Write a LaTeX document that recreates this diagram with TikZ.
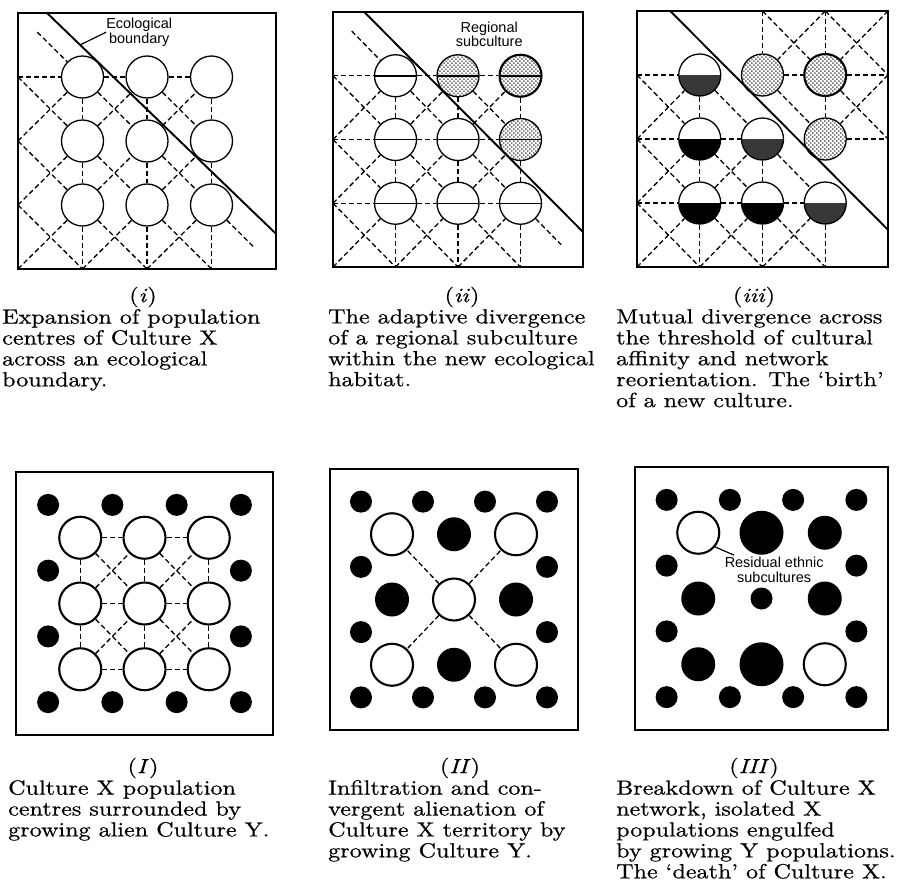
\documentclass[tikz,border=0pt]{standalone}
\usepackage{fontspec}
\setsansfont{Liberation Sans}
\newfontfamily\capfamily{lmroman10-regular.otf}[Ligatures=TeX, FakeStretch=1.18, FakeBold=0.6, ItalicFont=lmroman10-italic.otf]
\usetikzlibrary{patterns.meta}

\tikzdeclarepattern{name=stipple, type=uncolored,
  bottom left={(0bp,0bp)}, top right={(4.4bp,4.4bp)}, tile size={(4.4bp,4.4bp)},
  code={\fill (1.1bp,1.1bp) circle (0.85bp); \fill (3.3bp,3.3bp) circle (0.85bp);}}

\newcommand{\capfont}{\capfamily\fontsize{20.5}{21}\selectfont}
\newcommand{\notefont}{\sffamily\fontsize{14.5}{15}\selectfont}
\newcommand{\ringlist}{0.5/0.5,1.5/0.5,2.5/0.5,3.5/0.5,0.5/1.5,3.5/1.5,0.5/2.5,3.5/2.5,0.5/3.5,1.5/3.5,2.5/3.5,3.5/3.5}

\begin{document}
\begin{tikzpicture}[x=1bp, y=-1bp,
    frame/.style={line width=1.5bp},
    boundary/.style={line width=1.9bp},
    link/.style={line width=1.3bp, dash pattern=on 5bp off 3bp},
    town/.style={circle, draw, fill=white, line width=1.3bp, minimum size=42bp, inner sep=0pt},
    bold town/.style={town, line width=2.1bp},
    split town/.style={town, path picture={\draw[line width=1.5bp]
        (path picture bounding box.west) -- (path picture bounding box.east);}},
    half town/.style={town, path picture={\fill[#1]
        (path picture bounding box.west) rectangle (path picture bounding box.south east);}},
    half town/.default=black,
    grain/.style={pattern=stipple},
    alien/.style={circle, fill=black, inner sep=0pt, minimum size=#1},
    alien/.default=22bp,
    note/.style={font=\notefont, align=center, inner sep=0pt},
    tag/.style={font=\capfont, inner sep=0pt},
    caption/.style={font=\capfont, align=left, anchor=north west, inner sep=0pt}]
  \fill[white] (0,0) rectangle (897,892);
  \useasboundingbox (0,0) rectangle (897,892);

  % (i) population centres spread over the boundary
  \begin{scope}[shift={(18,13)}, x=64.5bp, y=-64bp]
    \draw[frame] (0,0) rectangle (4,4);
    \foreach \col in {0,...,4}
      \foreach \row in {0,...,4}
        \coordinate (ta-\col-\row) at (\col,\row);
    \coordinate (ta-corner) at (0.3,0.3);
    \coordinate (ta-tail) at (3.65,3.65);
    \foreach \col/\row in {1/1,2/1,3/1,1/2,2/2,3/2,1/3,2/3,3/3}
      \node[town] (ta-\col-\row) at (\col,\row) {};
    \foreach \a/\b in {0-1/1-1,1-1/2-1,2-1/3-1,
        1-1/1-2,1-2/1-3,1-3/1-4,2-1/2-2,2-2/2-3,2-3/2-4,3-1/3-2,3-2/3-3,3-3/3-4,
        corner/1-1,1-1/2-2,2-2/3-3,3-3/tail,0-1/1-2,1-2/2-3,2-3/3-4,0-2/1-3,1-3/2-4,0-3/1-4,2-1/3-2,
        0-2/1-1,0-3/1-2,1-2/2-1,0-4/1-3,1-3/2-2,2-2/3-1,1-4/2-3,2-3/3-2,2-4/3-3}
      \draw[link] (ta-\a) -- (ta-\b);
    \draw[boundary] (0.45,0) -- (4,3.45);
    \coordinate (ta-edge) at (0.96,0.5);
    \node[note] (ta-eco) at (1.88,0.3) {Ecological\\boundary};
    \draw[line width=1.2bp] (ta-edge) -- (ta-eco.west);
  \end{scope}

  % (ii) regional subculture
  \begin{scope}[shift={(333,12)}, x=62.5bp, y=-63.75bp]
    \draw[frame] (0,0) rectangle (4,4);
    \foreach \col in {0,...,4}
      \foreach \row in {0,...,4}
        \coordinate (tb-\col-\row) at (\col,\row);
    \coordinate (tb-corner) at (0.3,0.3);
    \coordinate (tb-tail) at (3.65,3.65);
    \foreach \col/\row in {1/1,1/2,2/2,1/3,2/3,3/3}
      \node[split town] (tb-\col-\row) at (\col,\row) {};
    \node[split town, grain] (tb-2-1) at (2,1) {};
    \node[split town, grain, line width=2.1bp] (tb-3-1) at (3,1) {};
    \node[split town, grain] (tb-3-2) at (3,2) {};
    \foreach \a/\b in {0-1/1-1,1-1/2-1,2-1/3-1,0-2/1-2,1-2/2-2,2-2/3-2,0-3/1-3,1-3/2-3,2-3/3-3,
        1-1/1-2,1-2/1-3,1-3/1-4,2-1/2-2,2-2/2-3,2-3/2-4,3-1/3-2,3-2/3-3,3-3/3-4,
        corner/1-1,1-1/2-2,2-2/3-3,3-3/tail,0-1/1-2,1-2/2-3,2-3/3-4,0-2/1-3,1-3/2-4,0-3/1-4,2-1/3-2,
        0-2/1-1,0-3/1-2,1-2/2-1,0-4/1-3,1-3/2-2,2-2/3-1,1-4/2-3,2-3/3-2,2-4/3-3}
      \draw[link] (tb-\a) -- (tb-\b);
    \draw[boundary] (0.5,0) -- (4,3.45);
    \node[note] (tb-sub) at (2.5,0.35) {Regional\\subculture};
  \end{scope}

  % (iii) two networks either side of the boundary
  \begin{scope}[shift={(637,11)}, x=62.75bp, y=-64bp]
    \draw[frame] (0,0) rectangle (4,4);
    \foreach \col in {0,...,4}
      \foreach \row in {0,...,4}
        \coordinate (tc-\col-\row) at (\col,\row);
    \foreach \col/\row in {1/2,1/3,2/3}
      \node[half town] (tc-\col-\row) at (\col,\row) {};
    \foreach \col/\row in {1/1,2/2,3/3}
      \node[half town=black!78] (tc-\col-\row) at (\col,\row) {};
    \node[town, grain] (tc-2-1) at (2,1) {};
    \node[bold town, grain] (tc-3-1) at (3,1) {};
    \node[town, grain] (tc-3-2) at (3,2) {};
    \foreach \a/\b in {0-1/1-1,0-2/1-2,1-2/2-2,0-3/1-3,1-3/2-3,2-3/3-3,
        1-1/1-2,1-2/1-3,1-3/1-4,2-2/2-3,2-3/2-4,3-3/3-4,
        0-1/1-2,1-1/2-2,1-2/2-3,2-2/3-3,0-2/1-3,1-3/2-4,2-3/3-4,0-3/1-4,
        0-2/1-1,0-3/1-2,0-4/1-3,1-3/2-2,1-4/2-3,2-4/3-3,
        2-0/2-1,3-0/3-1,3-1/3-2,2-1/3-1,3-1/4-1,3-2/4-2,
        2-0/3-1,3-0/4-1,2-1/3-2,3-1/4-2,3-0/2-1,4-0/3-1,4-1/3-2}
      \draw[link] (tc-\a) -- (tc-\b);
    \draw[boundary] (0.53,0) -- (4,3.42);
  \end{scope}

  % (I) Culture X ringed by Culture Y
  \begin{scope}[shift={(16,472)}, x=64.25bp, y=-65.75bp]
    \draw[frame] (0,0) rectangle (4,4);
    \foreach \col/\row [count=\k] in \ringlist
      \node[alien] (ba-y\k) at (\col,\row) {};
    \foreach \col/\row in {1/1,2/1,3/1,1/2,2/2,3/2,1/3,2/3,3/3}
      \node[bold town] (ba-\col-\row) at (\col,\row) {};
    \foreach \a/\b in {1-1/2-1,2-1/3-1,1-2/2-2,2-2/3-2,1-3/2-3,2-3/3-3,
        1-1/1-2,1-2/1-3,2-1/2-2,2-2/2-3,3-1/3-2,3-2/3-3,
        1-1/2-2,2-1/3-2,1-2/2-3,2-2/3-3,1-2/2-1,2-2/3-1,1-3/2-2,2-3/3-2}
      \draw[link] (ba-\a) -- (ba-\b);
  \end{scope}

  % (II) infiltration
  \begin{scope}[shift={(330,469)}, x=62bp, y=-65.25bp]
    \draw[frame] (0,0) rectangle (4,4);
    \foreach \col/\row [count=\k] in \ringlist
      \node[alien] (bb-y\k) at (\col,\row) {};
    \foreach \col/\row in {1/1,3/1,2/2,1/3,3/3}
      \node[bold town] (bb-\col-\row) at (\col,\row) {};
    \foreach \col/\row in {2/1,1/2,3/2,2/3}
      \node[alien=34bp] (bb-\col-\row) at (\col,\row) {};
    \foreach \b in {1-1,3-1,1-3,3-3}
      \draw[link] (bb-2-2) -- (bb-\b);
  \end{scope}

  % (III) breakdown
  \begin{scope}[shift={(635,467)}, x=63.25bp, y=-65.75bp]
    \draw[frame] (0,0) rectangle (4,4);
    \foreach \col/\row [count=\k] in \ringlist
      \node[alien] (bc-y\k) at (\col,\row) {};
    \foreach \col/\row in {1/1,3/3}
      \node[bold town] (bc-\col-\row) at (\col,\row) {};
    \foreach \col/\row/\size in {2/1/44bp,3/1/34bp,1/2/34bp,2/2/22bp,3/2/34bp,1/3/34bp,2/3/44bp}
      \node[alien=\size] (bc-\col-\row) at (\col,\row) {};
    \node[note] (bc-res) at (2.2,1.57) {Residual ethnic\\subcultures};
    \coordinate (bc-tip) at (1.565,1.34);
    \draw[line width=1.2bp] (bc-1-1.-40) -- (bc-tip);
  \end{scope}

  % captions
  \node[tag] (tag-ta) at (143,297) {(\textit{i})};
  \node[caption] (cap-ta) at (2,309) {Expansion of population\\centres of Culture X\\across an ecological\\boundary.};
  \node[tag] (tag-tb) at (462,297) {(\textit{ii})};
  \node[caption] (cap-tb) at (328,309) {The adaptive divergence\\of a regional subculture\\within the new ecological\\habitat.};
  \node[tag] (tag-tc) at (754,297) {(\textit{iii})};
  \node[caption] (cap-tc) at (616,309) {Mutual divergence across\\the threshold of cultural\\affinity and network\\reorientation. The `birth'\\of a new culture.};
  \node[tag] (tag-ba) at (143,768) {(\textit{I})};
  \node[caption] (cap-ba) at (8,780) {Culture X population\\centres surrounded by\\growing alien Culture Y.};
  \node[tag] (tag-bb) at (460,768) {(\textit{II})};
  \node[caption] (cap-bb) at (328,780) {Infiltration and con-\\vergent alienation of\\Culture X territory by\\growing Culture Y.};
  \node[tag] (tag-bc) at (754,768) {(\textit{III})};
  \node[caption] (cap-bc) at (616,780) {Breakdown of Culture X\\network, isolated X\\populations engulfed\\by growing Y populations.\\The `death' of Culture X.};
\end{tikzpicture}
\end{document}
